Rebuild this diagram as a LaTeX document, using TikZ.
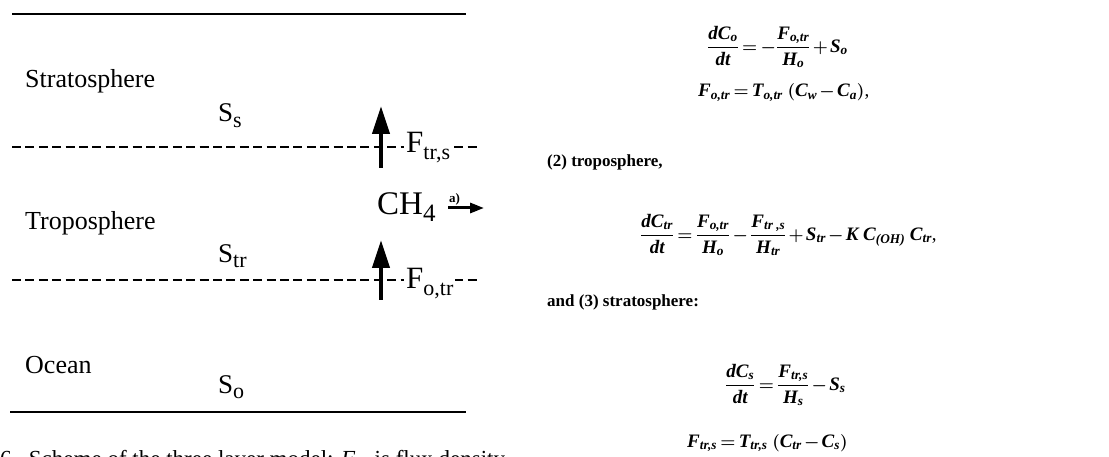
\documentclass[tikz,border=0pt]{standalone}
\usepackage{amsmath}
\usepackage{fontspec}
\setmainfont{Liberation Serif}
\usetikzlibrary{arrows.meta}
\newcommand\mi[1]{\text{\bfseries\itshape #1}}
\newcommand\lsub[1]{\raisebox{-0.2em}{\fontsize{22}{22}\selectfont #1}}
\newcommand\tightmath{\thinmuskip=2mu\medmuskip=2mu plus 1mu\thickmuskip=3mu plus 1mu}
\begin{document}
\begin{tikzpicture}[x=1pt,y=-1pt,
  lab/.style={font=\fontsize{26}{28}\selectfont, inner sep=0pt, anchor=base west},
  sym/.style={font=\fontsize{27}{29}\selectfont, inner sep=0pt, anchor=base west},
  big/.style={font=\fontsize{31}{33}\selectfont, inner sep=0pt, anchor=base west},
  rtext/.style={font=\fontsize{17}{19}\selectfont\bfseries, inner sep=0pt, anchor=base west},
  eq/.style={font=\fontsize{19}{21}\selectfont\boldmath\tightmath, inner sep=0pt},
  layer/.style={line width=2pt},
  bound/.style={line width=1.8pt, dash pattern=on 9pt off 4.4pt},
  flux/.style={line width=4pt, -{Triangle[length=28pt,width=17pt]}},
  outflow/.style={line width=3pt, -{Triangle[length=14pt,width=10pt]}}]
\fill[white] (0,0) rectangle (1109,457);
\useasboundingbox (0,0) rectangle (1109,457);
% layer lines
\coordinate (topl) at (12,14);  \coordinate (topr) at (466,14);
\coordinate (botl) at (10,412); \coordinate (botr) at (466,412);
\coordinate (d1l) at (12,147);  \coordinate (d1r) at (480,147);
\coordinate (d2l) at (12,280);  \coordinate (d2r) at (480,280);
\draw[layer] (topl) -- (topr);
\draw[layer] (botl) -- (botr);
\draw[bound] (d1l) -- (d1r);
\draw[bound] (d2l) -- (d2r);
% layer names
\node[lab] (strat) at (25,88) {Stratosphere};
\node[lab] (trop) at (25,230) {Troposphere};
\node[lab] (ocean) at (25,373) {Ocean};
\node[sym] (ss) at (218,122) {S\lsub{s}};
\node[sym] (str) at (218,262) {S\lsub{tr}};
\node[sym] (so) at (218,393) {S\lsub{o}};
% flux labels
\node[big, fill=white, inner xsep=2pt] (ftrs) at (404,153) {F\lsub{tr,s}};
\node[big, fill=white, inner xsep=2pt] (fotr) at (404,289) {F\lsub{o,tr}};
% flux arrows
\coordinate (a1b) at (381,168); \coordinate (a1t) at (381,106);
\coordinate (a2b) at (381,300); \coordinate (a2t) at (381,240);
\draw[flux] (a1b) -- (a1t);
\draw[flux] (a2b) -- (a2t);
% CH4 outflow
\node[font=\fontsize{33}{35}\selectfont, inner sep=0pt, anchor=base west] (ch4) at (377,215) {CH\raisebox{-0.2em}{\fontsize{25}{25}\selectfont 4}};
\coordinate (h1l) at (448,208); \coordinate (h1r) at (484,208);
\draw[outflow] (h1l) -- (h1r);
\node[font=\fontsize{13}{14}\selectfont\bfseries, inner sep=0pt, anchor=base west] (ar) at (449,203) {a)};
% right-hand text
\node[eq, anchor=west] (e1) at (707,47) {$\displaystyle\frac{\mi{dC}_{\mi{o}}}{\mi{dt}} = -\frac{\mi{F}_{\mi{o,tr}}}{\mi{H}_{\mi{o}}} + \mi{S}_{\mi{o}}$};
\node[eq, anchor=base west] (e2) at (698,97) {$\mi{F}_{\mi{o,tr}} = \mi{T}_{\mi{o,tr}}\ (\mi{C}_{\mi{w}} - \mi{C}_{\mi{a}})$,};
\node[rtext] (t2) at (547,167) {(2) troposphere,};
\node[eq, anchor=west] (e3) at (640,235) {$\displaystyle\frac{\mi{dC}_{\mi{tr}}}{\mi{dt}} = \frac{\mi{F}_{\mi{o,tr}}}{\mi{H}_{\mi{o}}} - \frac{\mi{F}_{\mi{tr ,s}}}{\mi{H}_{\mi{tr}}} + \mi{S}_{\mi{tr}} - \mi{K}\ \mi{C}_{\mi{(OH)}}\ \mi{C}_{\mi{tr}}$,};
\node[rtext] (t3) at (547,306) {and (3) stratosphere:};
\node[eq, anchor=west] (e4) at (725,385) {$\displaystyle\frac{\mi{dC}_{\mi{s}}}{\mi{dt}} = \frac{\mi{F}_{\mi{tr,s}}}{\mi{H}_{\mi{s}}} - \mi{S}_{\mi{s}}$};
\node[eq, anchor=base west] (e5) at (687,447) {$\mi{F}_{\mi{tr,s}} = \mi{T}_{\mi{tr,s}}\ (\mi{C}_{\mi{tr}} - \mi{C}_{\mi{s}})$};
% caption (cut by the page edge, as in the reference)
\node[font=\fontsize{23}{25}\selectfont, inner sep=0pt, anchor=base west] (cap) at (0,466) {6.\ \ Scheme of the three layer model: \textit{F}$_{\textit{i,j}}$ is flux density};
\end{tikzpicture}
\end{document}
